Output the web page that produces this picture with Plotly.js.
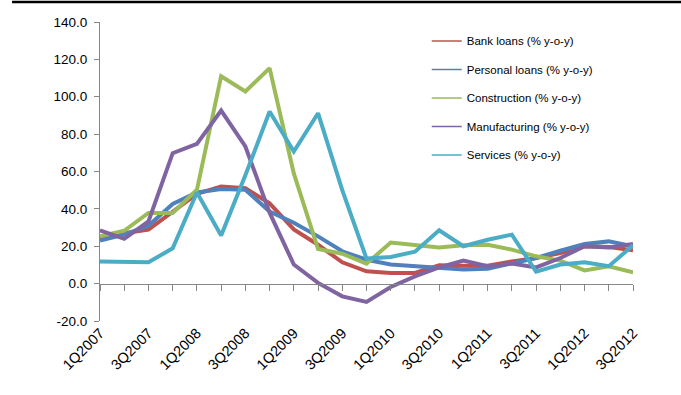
<!DOCTYPE html>
<html>
<head>
<meta charset="utf-8">
<script src="https://cdn.plot.ly/plotly-3.0.1.min.js"></script>
<style>html,body{margin:0;padding:0;background:#fff;}#chart{width:681px;height:395px;}</style>
</head>
<body>
<div id="chart"></div>
<script>
var quarters = ["1Q2007","2Q2007","3Q2007","4Q2007","1Q2008","2Q2008","3Q2008","4Q2008",
  "1Q2009","2Q2009","3Q2009","4Q2009","1Q2010","2Q2010","3Q2010","4Q2010",
  "1Q2011","2Q2011","3Q2011","4Q2011","1Q2012","2Q2012","3Q2012"];
var tickLabels = ["1Q2007","3Q2007","1Q2008","3Q2008","1Q2009","3Q2009","1Q2010","3Q2010","1Q2011","3Q2011","1Q2012","3Q2012"];
var yTickVals = [-20, 0, 20, 40, 60, 80, 100, 120, 140];
var yTickText = ["-20.0","0.0","20.0","40.0","60.0","80.0","100.0","120.0","140.0"];

var bankLoans     = [24, 27, 28.9, 38.7, 48, 52, 51, 43, 29, 20.8, 11.4, 6.6, 5.7, 5.7, 9.8, 9.6, 9.6, 11.9, 13.7, 16.4, 20, 19.6, 17.8];
var personalLoans = [23, 26.2, 31, 42.6, 48.8, 50.6, 50.2, 38.6, 32.6, 25.3, 17.3, 12.8, 10.2, 9.3, 8.7, 7.5, 8, 10.7, 13.7, 17.6, 21.2, 22.6, 20];
var construction  = [25.3, 28.3, 37.8, 37.8, 50.2, 111, 102.8, 115.3, 59, 18.5, 16, 10.7, 22, 20.5, 19.4, 20.5, 20.8, 18.2, 14.6, 12.3, 7.1, 9.3, 6];
var manufacturing = [28.5, 24, 33.3, 69.8, 74.8, 92.6, 73.4, 38, 10.2, 0.4, -6.8, -9.8, -1.8, 3.9, 8.7, 12.3, 9.3, 10.7, 8.7, 13.7, 20, 19.4, 21.2];
var services      = [11.9, 11.4, 11.4, 18.9, 48.8, 25.8, 58, 92.1, 70.7, 91.2, 50, 13.4, 14.3, 17.1, 28.5, 20, 23.5, 26.2, 6.4, 10.2, 11.4, 9.3, 20.5];

var seriesNames = ["Bank loans (% y-o-y)","Personal loans (% y-o-y)","Construction (% y-o-y)","Manufacturing (% y-o-y)","Services (% y-o-y)"];
var seriesData = [bankLoans, personalLoans, construction, manufacturing, services];
var colors = ["#C0504D","#4F81BD","#9BBB59","#8064A2","#4BACC6"];

var traces = [];
for (var i = 0; i < seriesData.length; i++) {
  traces.push({
    x: quarters, y: seriesData[i], type: "scatter", mode: "lines",
    line: {color: colors[i], width: 4, shape: "linear"},
    name: seriesNames[i], showlegend: false, hoverinfo: "skip"
  });
}
// legend entries with thin lines
for (var j = 0; j < seriesData.length; j++) {
  traces.push({
    x: [quarters[0]], y: [null], type: "scatter", mode: "lines",
    line: {color: colors[j], width: 1.5},
    name: seriesNames[j], showlegend: true, legendgroup: "g" + j, hoverinfo: "skip"
  });
}
// category axis drawn at zero with tick marks
traces.push({x: quarters, y: quarters.map(function(){return null;}), xaxis: "x2", type: "scatter", mode: "lines", showlegend: false, hoverinfo: "skip"});

var fam = "Liberation Sans, Arial, sans-serif";

var layout = {
  width: 681, height: 395,
  margin: {l: 100, r: 48, t: 22, b: 74, pad: 0},
  paper_bgcolor: "#fff", plot_bgcolor: "#fff",
  font: {family: fam, size: 12, color: "#000"},
  showlegend: true,
  legend: {x: 0.613, y: 0.985, xanchor: "left", yanchor: "top", font: {family: fam, size: 11.5, color: "#000"},
           bgcolor: "rgba(0,0,0,0)", traceorder: "grouped", tracegroupgap: 9.5},
  xaxis: {type: "category", range: [0, 22], tickvals: tickLabels, ticktext: tickLabels, tickangle: -45,
          showline: false, showgrid: false, zeroline: false, ticks: "", tickfont: {family: fam, size: 14.5, color: "#000"}},
  xaxis2: {type: "category", overlaying: "x", anchor: "free", position: 0.125, side: "bottom", range: [0, 22],
           tickvals: quarters, showticklabels: false, showline: true, linecolor: "#868686", linewidth: 1,
           ticks: "outside", ticklen: 6, tickcolor: "#868686", showgrid: false, zeroline: false},
  yaxis: {range: [-20, 140], tickvals: yTickVals, ticktext: yTickText, showline: true, linecolor: "#868686", linewidth: 1,
          ticks: "outside", ticklen: 5, tickcolor: "#868686", showgrid: false, zeroline: false, ticklabelstandoff: 4,
          tickfont: {family: fam, size: 13.5, color: "#000"}},
  shapes: [{type: "line", xref: "paper", yref: "paper", x0: -0.165, x1: 1.1, y0: 1.067, y1: 1.067,
            line: {color: "#000", width: 2.5}}]
};

Plotly.newPlot("chart", traces, layout, {displayModeBar: false, staticPlot: true});
</script>
</body>
</html>
